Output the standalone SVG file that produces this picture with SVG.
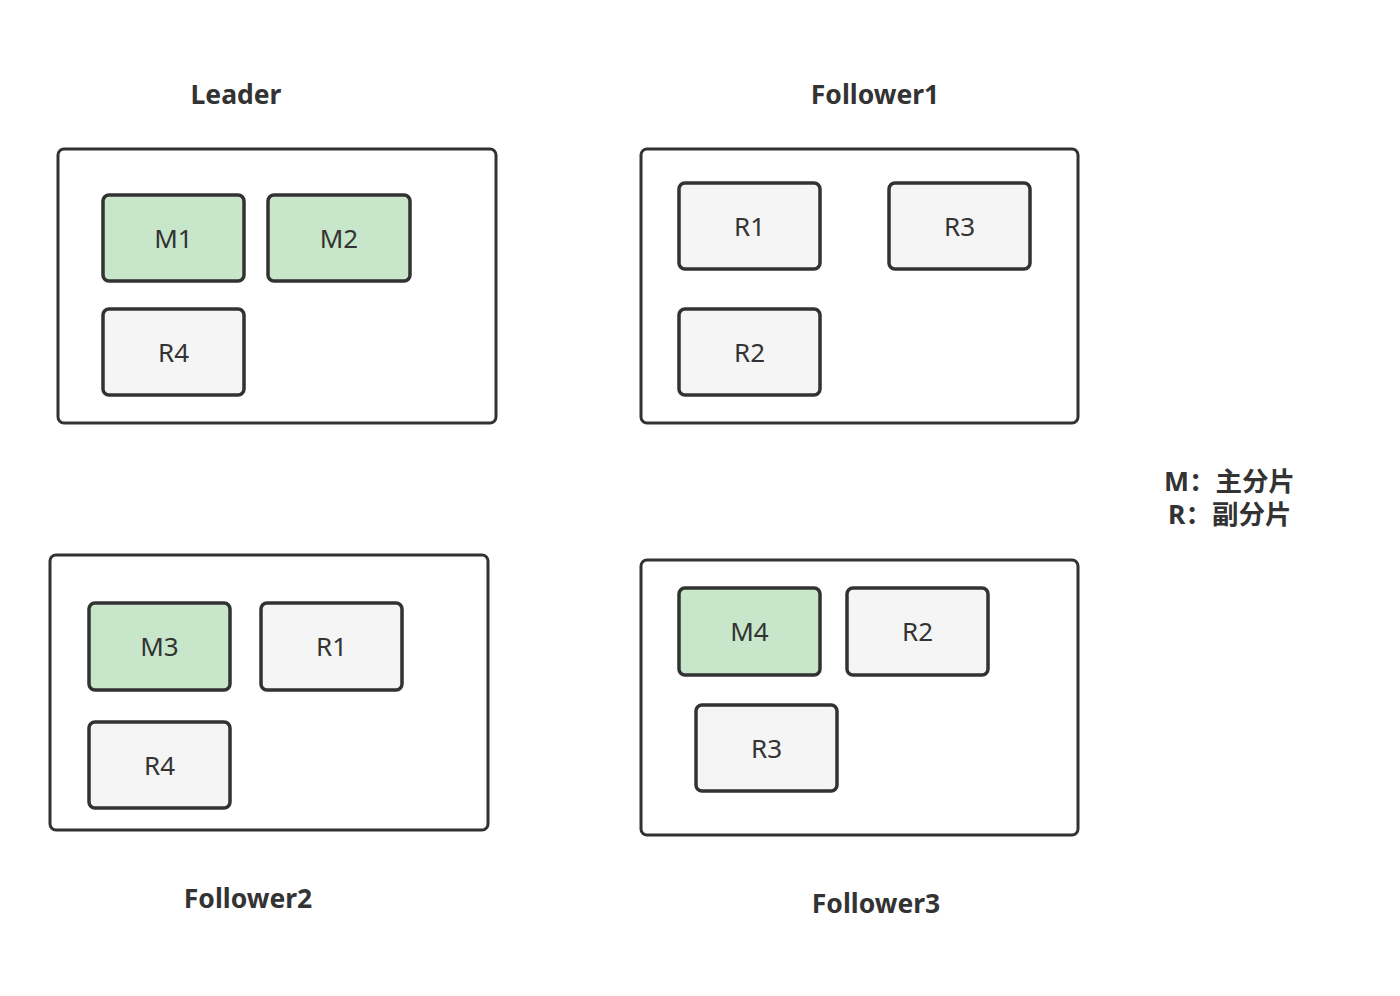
<svg xmlns="http://www.w3.org/2000/svg" width="1400" height="996" viewBox="0 0 1400 996">
<style>
.outer{fill:#ffffff;stroke:#323232;stroke-width:3}
.m{fill:#c8e6c9;stroke:#323232;stroke-width:3.5}
.r{fill:#f5f5f5;stroke:#323232;stroke-width:3.5}
.t{font-family:"Noto Sans","Open Sans","Noto Sans CJK SC",sans-serif;font-size:26px;fill:#333333;text-anchor:middle;dominant-baseline:central}
.h{font-family:"Noto Sans","Open Sans","Noto Sans CJK SC",sans-serif;font-size:26.5px;font-weight:bold;fill:#333333;text-anchor:middle}
.lg{font-family:"Noto Sans","Noto Sans CJK SC",sans-serif;font-size:26.5px;font-weight:bold;fill:#333333}
</style>
<rect width="1400" height="996" fill="#ffffff"/>
<g id="leader">
<text class="h" x="236" y="104">Leader</text>
<rect class="outer" x="58" y="149" width="438" height="274" rx="6"/>
<g id="leader-m1"><rect class="m" x="103" y="195" width="141" height="86" rx="6"/><text class="t" x="173.5" y="238">M1</text></g>
<g id="leader-m2"><rect class="m" x="268" y="195" width="142" height="86" rx="6"/><text class="t" x="339" y="238">M2</text></g>
<g id="leader-r4"><rect class="r" x="103" y="309" width="141" height="86" rx="6"/><text class="t" x="173.5" y="352">R4</text></g>
</g>
<g id="follower1">
<text class="h" x="875" y="104">Follower1</text>
<rect class="outer" x="641" y="149" width="437" height="274" rx="6"/>
<g id="f1-r1"><rect class="r" x="679" y="183" width="141" height="86" rx="6"/><text class="t" x="749.5" y="226">R1</text></g>
<g id="f1-r3"><rect class="r" x="889" y="183" width="141" height="86" rx="6"/><text class="t" x="959.5" y="226">R3</text></g>
<g id="f1-r2"><rect class="r" x="679" y="309" width="141" height="86" rx="6"/><text class="t" x="749.5" y="352">R2</text></g>
</g>
<g id="follower2">
<rect class="outer" x="50" y="555" width="438" height="275" rx="6"/>
<g id="f2-m3"><rect class="m" x="89" y="603" width="141" height="87" rx="6"/><text class="t" x="159.5" y="646">M3</text></g>
<g id="f2-r1"><rect class="r" x="261" y="603" width="141" height="87" rx="6"/><text class="t" x="331.5" y="646">R1</text></g>
<g id="f2-r4"><rect class="r" x="89" y="722" width="141" height="86" rx="6"/><text class="t" x="159.5" y="765">R4</text></g>
<text class="h" x="248" y="908">Follower2</text>
</g>
<g id="follower3">
<rect class="outer" x="641" y="560" width="437" height="275" rx="6"/>
<g id="f3-m4"><rect class="m" x="679" y="588" width="141" height="87" rx="6"/><text class="t" x="749.5" y="631">M4</text></g>
<g id="f3-r2"><rect class="r" x="847" y="588" width="141" height="87" rx="6"/><text class="t" x="917.5" y="631">R2</text></g>
<g id="f3-r3"><rect class="r" x="696" y="705" width="141" height="86" rx="6"/><text class="t" x="766.5" y="748">R3</text></g>
<text class="h" x="876" y="913">Follower3</text>
</g>
<g id="legend">
<text class="lg" x="1164" y="491">M：主分片</text>
<text class="lg" x="1168" y="524">R：副分片</text>
</g>
<g id="connectors"></g>
</svg>
